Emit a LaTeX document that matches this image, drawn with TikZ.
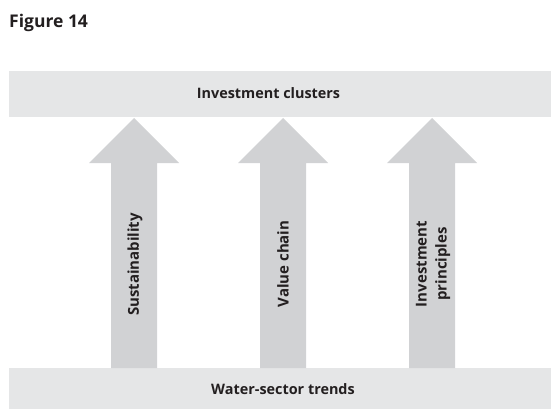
\documentclass[tikz,border=0pt]{standalone}
\usepackage{fontspec}
\setmainfont{Open Sans}
\definecolor{barfill}{HTML}{E5E6E7}
\definecolor{arrowfill}{HTML}{D1D2D4}
\definecolor{ink}{HTML}{231F20}
\begin{document}
\begin{tikzpicture}[x=1pt,y=-1pt,
  bar/.style={fill=barfill,draw=none},
  bararrow/.style={fill=arrowfill,draw=none},
  bartext/.style={font=\bfseries\fontsize{14.4}{16}\selectfont,text=ink},
  arrowtext/.style={font=\bfseries\fontsize{15}{20}\selectfont,text=ink,rotate=90,align=center}]
\useasboundingbox (0,0) rectangle (551,409);
% title
\node[anchor=base west,inner sep=0pt,font=\bfseries\fontsize{17.5}{20}\selectfont,text=ink] (title) at (9,28) {Figure 14};
% horizontal bars
\fill[bar] (9,71) rectangle (551,117);
\node[bartext] (clusters) at (268.5,93) {Investment clusters};
\fill[bar] (9,368) rectangle (551,409);
\node[bartext] (trends) at (283,389) {Water-sector trends};
% upward block arrows from the trends bar to the clusters bar
\foreach \cx/\nm in {134/a, 283/b, 432/c}{
  \fill[bararrow] (\cx-23,368) -- (\cx-23,163) -- (\cx-45,163) -- (\cx,118)
    -- (\cx+45,163) -- (\cx+23,163) -- (\cx+23,368) -- cycle;
}
\node[arrowtext] (sust) at (135,264.5) {Sustainability};
\node[arrowtext] (value) at (283,264) {Value chain};
\node[arrowtext] (princ) at (433,264) {Investment\\principles};
\end{tikzpicture}
\end{document}
